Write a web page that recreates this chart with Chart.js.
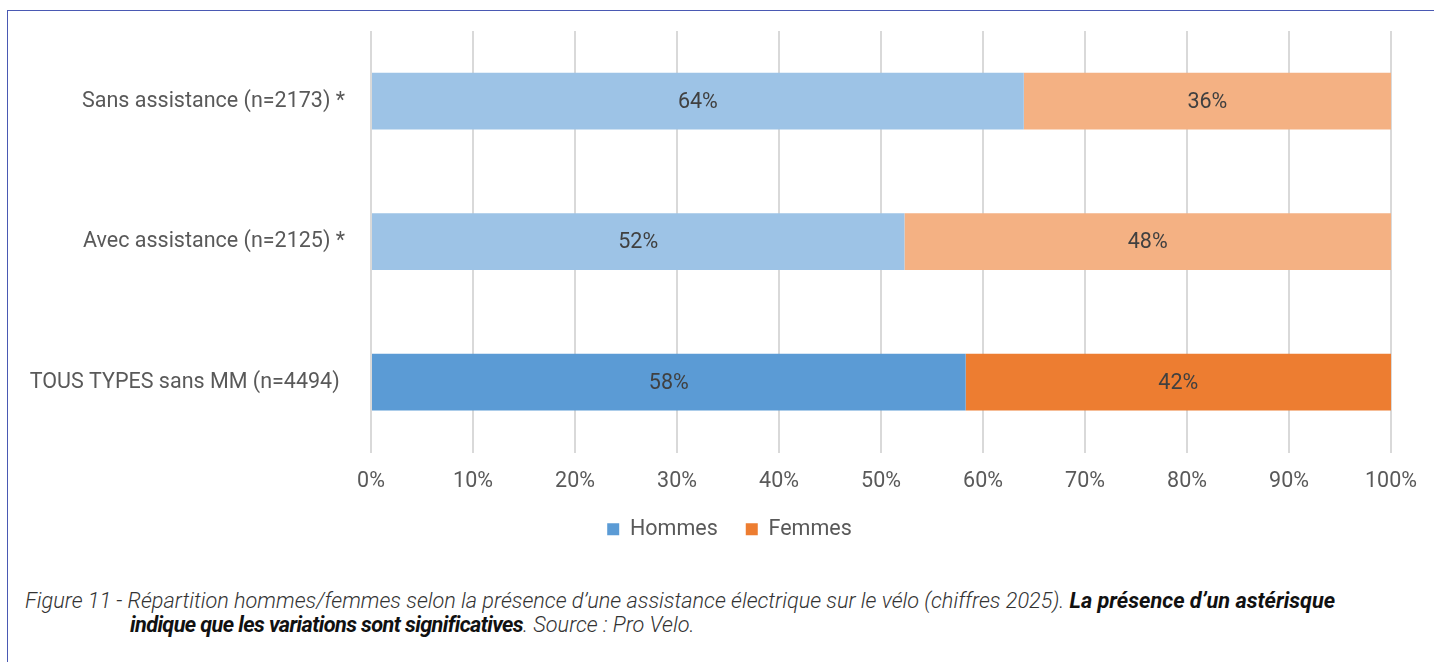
<!DOCTYPE html>
<html lang="fr">
<head>
<meta charset="utf-8">
<script src="https://cdn.jsdelivr.net/npm/chart.js@4.4.1/dist/chart.umd.min.js"></script>
<style>
  html, body { margin: 0; padding: 0; background: #fff; }
  body { width: 1434px; height: 662px; position: relative; overflow: hidden; font-family: Roboto, sans-serif; }
  .frame { position: absolute; left: 7px; top: 10px; right: -5px; bottom: -5px; border-left: 1px solid #4a59b3; border-top: 1px solid #4a59b3; }
  .chart-box { position: absolute; left: 0; top: 0; width: 1434px; height: 560px; }
  .caption { position: absolute; left: 25px; top: 589px; width: 1400px; font-style: italic; font-weight: 300; font-size: 21.7px; line-height: 24px; color: #333; white-space: nowrap; }
  .caption b { font-weight: 700; color: #111; }
  .caption .indent { padding-left: 105px; }
  .caption .indent b { letter-spacing: -0.6px; }
</style>
</head>
<body>
<div class="frame"></div>
<div class="chart-box"><canvas id="chart"></canvas></div>
<div class="caption">
  Figure 11 - Répartition hommes/femmes selon la présence d’une assistance électrique sur le vélo (chiffres 2025). <b>La présence d’un astérisque</b><br>
  <span class="indent"><b>indique que les variations sont significatives</b>. Source : Pro Velo.</span>
</div>
<script>
// --- Données ---
const categories = ['Sans assistance (n=2173) *', 'Avec assistance (n=2125) *', 'TOUS TYPES sans MM (n=4494) '];
const hommes = [64, 52.3, 58.3];
const femmes = [36, 47.7, 41.7];
const xTicks = [0, 10, 20, 30, 40, 50, 60, 70, 80, 90, 100];

// --- Couleurs (clair pour les sous-groupes, foncé pour le total) ---
const hommesColors = ['#9dc3e6', '#9dc3e6', '#5b9bd5'];
const femmesColors = ['#f4b183', '#f4b183', '#ed7d31'];

// petit plugin pour écrire les pourcentages au milieu des barres
const barLabels = {
    id: 'barLabels',
    afterDatasetsDraw(chart) {
        const ctx = chart.ctx;
        ctx.save();
        ctx.font = '21.5px Roboto';
        ctx.fillStyle = '#404040';
        ctx.textAlign = 'center';
        ctx.textBaseline = 'middle';
        chart.data.datasets.forEach((ds, i) => {
            chart.getDatasetMeta(i).data.forEach((bar, j) => {
                const p = bar.getProps(['x', 'y', 'base'], true);
                ctx.fillText(Math.round(ds.data[j]) + '%', (p.x + p.base) / 2, p.y + 1);
            });
        });
        ctx.restore();
    }
};

// la légende est centrée un peu à droite (sous la zone du graphique)
const legendShift = {
    id: 'legendShift',
    afterLayout(chart) {
        if (chart.legend) chart.legend.left = 68;
    }
};

new Chart(document.getElementById('chart'), {
    type: 'bar',
    data: {
        labels: categories,
        datasets: [
            { label: 'Hommes', data: hommes, backgroundColor: hommesColors, borderWidth: 0 },
            { label: 'Femmes', data: femmes, backgroundColor: femmesColors, borderWidth: 0 }
        ]
    },
    options: {
        indexAxis: 'y',
        responsive: true,
        maintainAspectRatio: false,
        animation: false,
        layout: { padding: { top: 16, right: 43, left: 0, bottom: 10 } },
        datasets: { bar: { barPercentage: 0.404, categoryPercentage: 1 } },
        scales: {
            x: {
                stacked: true, min: 0, max: 100,
                afterBuildTicks: s => { s.ticks = xTicks.map(v => ({ value: v })); },
                afterFit: s => { s.height = 38; },
                grid: { color: '#d9d9d9', lineWidth: 2, drawTicks: false },
                border: { display: false },
                ticks: { color: '#595959', font: { family: 'Roboto', size: 21.5 }, padding: 16, callback: v => v + '%' }
            },
            y: {
                stacked: true,
                afterFit: s => { s.width = 371; },
                grid: { display: false },
                border: { display: false },
                ticks: { color: '#595959', font: { family: 'Roboto', size: 21.5 }, padding: 18 }
            }
        },
        plugins: {
            legend: {
                position: 'bottom',
                labels: {
                    color: '#595959', font: { family: 'Roboto', size: 21.5 },
                    boxWidth: 12, boxHeight: 12, padding: 28,
                    generateLabels: chart => chart.data.datasets.map((ds, i) => ({
                        text: ds.label, fillStyle: ds.backgroundColor[2], strokeStyle: ds.backgroundColor[2],
                        lineWidth: 0, datasetIndex: i, fontColor: '#595959'
                    }))
                }
            },
            tooltip: { enabled: false }
        }
    },
    plugins: [barLabels, legendShift]
});
</script>
</body>
</html>
